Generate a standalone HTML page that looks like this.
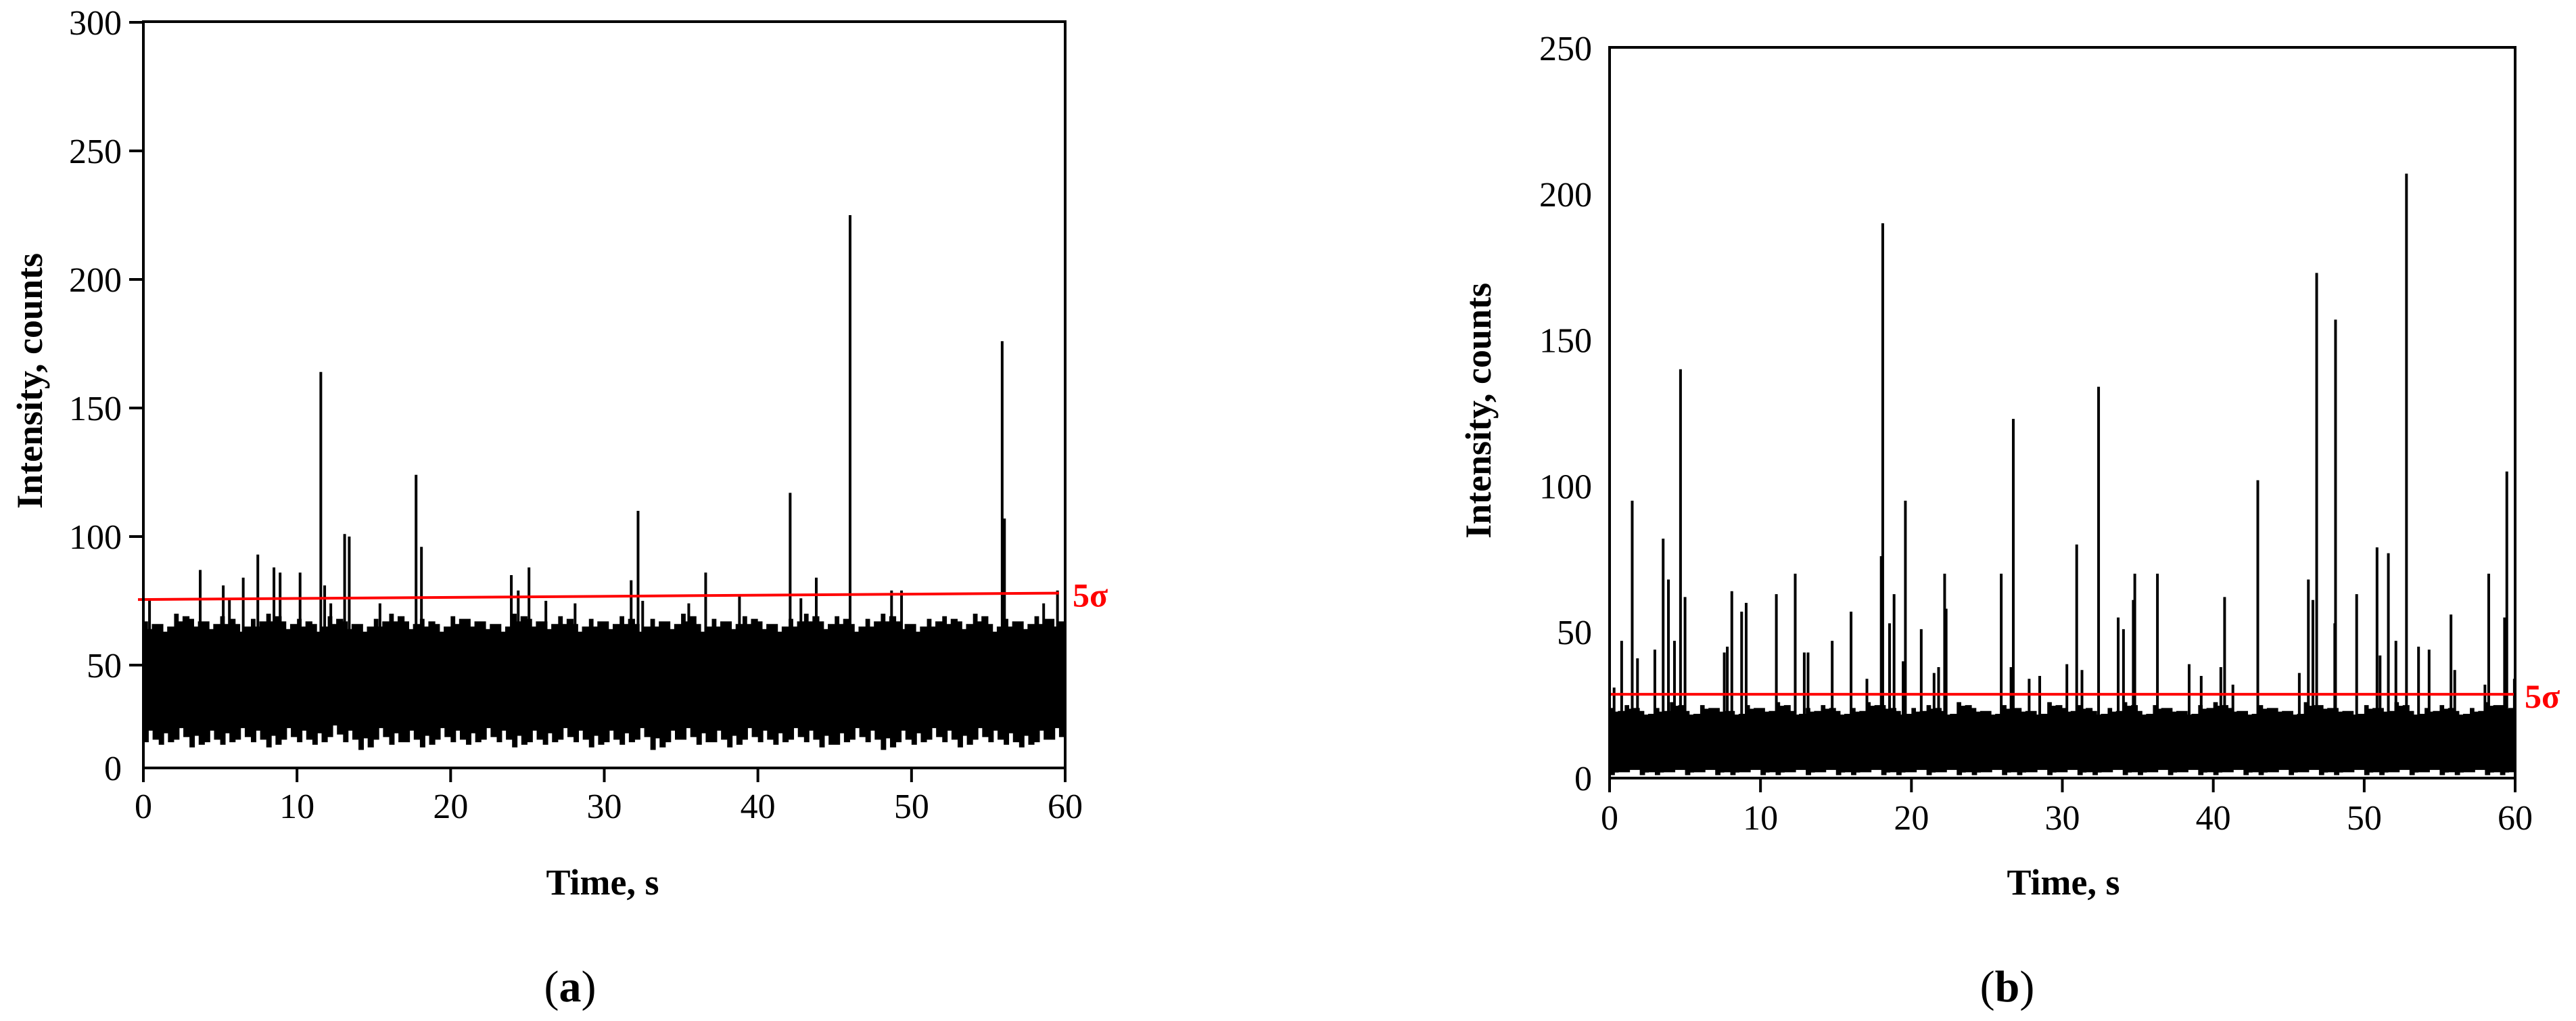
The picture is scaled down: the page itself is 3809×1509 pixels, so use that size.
<!DOCTYPE html>
<html><head><meta charset="utf-8"><style>
html,body{margin:0;padding:0;background:#fff;}
svg{display:block;}
text{font-family:"Liberation Serif",serif;}
</style></head><body>
<svg id="fig" width="3809" height="1509" viewBox="0 0 3809 1509" xmlns="http://www.w3.org/2000/svg"></svg>
<script>
// ---- Chart (a) data ----
const aTicksX = [0,10,20,30,40,50,60];
const aTicksY = [50,100,150,200,250,300];
const aSpikeT = [0.4,3.7,5.2,5.6,6.5,7.45,8.5,8.9,10.2,11.55,11.8,12.2,13.1,13.4,15.4,17.75,18.1,23.95,24.4,25.1,26.2,28.1,31.75,32.2,32.5,35.5,36.6,38.8,42.1,42.8,43.8,46.0,48.7,49.35,55.9,56.05,58.6,59.5];
const aSpikeV = [75,87,81,76,84,93,88,86,86,164,81,74,101,100,74,124,96,85,79,88,75,74,83,110,75,74,86,77,117,76,84,225,79,79,176,107,74,79];
const aUpper = [67,66,70,68,67,69,66,68,70,67,68,66,69,67,66,68,70,67,68,66,69,68,67,66,70,68,67,69,66,68,67,69,66,68,67,70,66,68,67,69,67,66,68,70,67,69,66,68,70,67,66,68,69,67,70,66,68,67,69,68];
const aLower = [20,19,21,18,20,19,21,20,18,21,20,19,22,20,17,21,19,20,18,21,20,19,21,20,18,20,19,21,20,18,20,19,21,17,20,21,19,20,18,21,20,19,21,20,18,19,21,20,17,20,19,21,20,18,21,20,19,18,20,21];
const aCoreTop = 61, aCoreBottom = 29;
const aSigma = [75.5, 78];
// ---- Chart (b) data ----
const bTicksX = [0,10,20,30,40,50,60];
const bTicksY = [0,50,100,150,200,250];
const bSpikeT = [0.3,0.8,1.5,1.85,3.0,3.55,3.9,4.3,4.7,5.0,7.6,7.8,8.1,8.75,9.05,11.05,12.3,12.9,13.15,14.75,16.0,17.05,18.0,18.1,18.55,18.85,19.45,19.6,20.65,21.5,21.8,22.2,22.3,25.95,26.6,26.75,27.8,28.5,30.3,30.95,31.3,32.4,33.7,34.05,34.7,34.8,36.3,38.4,39.2,40.5,40.75,41.3,42.95,45.7,46.3,46.6,46.85,48.05,48.1,49.5,50.85,51.05,51.6,52.1,52.8,53.6,54.3,55.75,56.0,58.0,58.25,59.3,59.45,59.95];
const bSpikeV = [31,47,95,41,44,82,68,47,140,62,43,45,64,57,60,63,70,43,43,47,57,34,76,190,53,63,40,95,51,36,38,70,58,70,38,123,34,35,39,80,37,134,55,51,61,70,70,39,35,38,62,32,102,36,68,61,173,53,157,63,79,42,77,47,207,45,44,56,37,32,70,55,105,34];
const bUpper = [24,25,23,24,26,23,25,24,23,25,24,26,23,24,25,23,24,26,25,23,24,25,23,26,24,23,25,24,23,26,24,25,23,24,26,23,25,24,23,25,26,24,23,25,24,23,26,25,24,23,25,24,26,23,24,25,23,24,26,25];
const bLower = [1,2,1,1,2,1,2,1,1,2,1,1,2,1,2,1,1,2,1,1,2,1,2,1,1,2,1,1,2,1,2,1,1,2,1,1,2,1,2,1,1,2,1,1,2,1,2,1,1,2,1,1,2,1,2,1,1,2,1,1];
const bCoreTop = 21.5, bCoreBottom = 2.8;
const bSigma = [28.7, 28.7];

const NS = "http://www.w3.org/2000/svg";
const svg = document.getElementById('fig');
function mk(tag, attrs, parent){
  const e = document.createElementNS(NS, tag);
  for (const k in attrs) e.setAttribute(k, attrs[k]);
  (parent||svg).appendChild(e);
  return e;
}

function drawChart(cfg){
  const g = mk('g', {});
  
  
  const X = t => cfg.x0 + t / 60 * (cfg.x1 - cfg.x0);
  const Y = v => cfg.yZero - v * cfg.pxPerUnit;
  const n = cfg.upper.length;
  const du = (cfg.upper[0] - cfg.coreTop) * 0.5;
  const dl = (cfg.coreBottom - cfg.lower[0]) * 0.5;
  let pts = [];
  for (let i = 0; i < n; i++) {
    const t = i;
    pts.push(X(t) + ',' + Y(cfg.upper[i]));
    pts.push(X(t + 0.3) + ',' + Y(cfg.upper[i]));
    pts.push(X(t + 0.3) + ',' + Y(cfg.upper[i] - du));
    pts.push(X(t + 0.55) + ',' + Y(cfg.upper[i] - du));
    pts.push(X(t + 0.55) + ',' + Y(cfg.upper[i] - 1));
    pts.push(X(Math.min(t + 1, 60)) + ',' + Y(cfg.upper[i] - 1));
  }
  for (let i = n - 1; i >= 0; i--) {
    const t = i;
    pts.push(X(Math.min(t + 1, 60)) + ',' + Y(cfg.lower[i] + 1));
    pts.push(X(t + 0.6) + ',' + Y(cfg.lower[i] + 1));
    pts.push(X(t + 0.6) + ',' + Y(cfg.lower[i] + dl));
    pts.push(X(t + 0.35) + ',' + Y(cfg.lower[i] + dl));
    pts.push(X(t + 0.35) + ',' + Y(cfg.lower[i]));
    pts.push(X(t) + ',' + Y(cfg.lower[i]));
  }
  const noise = mk('polygon', {points: pts.join(' '), fill: '#000'}, g);
  
  
  const core = mk('rect', {x: X(0), y: Y(cfg.coreTop), width: X(60) - X(0), height: Y(cfg.coreBottom) - Y(cfg.coreTop), fill: '#000'}, g);
  
  
  for (let i = 0; i < cfg.spT.length; i++) {
    const l = mk('line', {x1: X(cfg.spT[i]), x2: X(cfg.spT[i]), y1: Y(cfg.coreTop), y2: Y(cfg.spV[i]), stroke: '#000', 'stroke-width': 4}, g);
    
    
  }
  const red = mk('line', {x1: cfg.redX0, x2: cfg.redX1, y1: Y(cfg.sigma[0]), y2: Y(cfg.sigma[1]), stroke: '#ff0000', 'stroke-width': 4}, g);
  
  
  const st = mk('text', {x: cfg.redX1 + cfg.sigDx, y: Y(cfg.sigma[1]) + 20, fill: '#ff0000', 'font-size': 50, 'font-weight': 'bold'}, g);
  st.textContent = '5σ';
  
  
  const fr = mk('path', {d: `M${cfg.x0},${cfg.yTop} H${cfg.x1} V${cfg.yBot} H${cfg.x0} Z`, fill: 'none', stroke: '#000', 'stroke-width': 4}, g);
  
  
  cfg.ticksX.forEach(t => {
    const tl = mk('line', {x1: X(t), x2: X(t), y1: cfg.yBot, y2: cfg.yBot + 21, stroke: '#000', 'stroke-width': 4}, g);
    
    
    const tx = mk('text', {x: X(t), y: cfg.yBot + cfg.xLabDy, 'font-size': 52, 'text-anchor': 'middle'}, g);
    tx.textContent = t;
    
    
  });
  cfg.ticksY.forEach(v => {
    if (cfg.yTickMarks) {
      const tl = mk('line', {x1: cfg.x0 - 21, x2: cfg.x0, y1: Y(v), y2: Y(v), stroke: '#000', 'stroke-width': 4}, g);
      
      
    }
    const ty = mk('text', {x: cfg.x0 - cfg.yLabDx, y: Y(v) + 18, 'font-size': 52, 'text-anchor': 'end'}, g);
    ty.textContent = v;
    
    
  });
  if (cfg.zeroLabel) {
    const z = mk('text', {x: cfg.x0 - cfg.yLabDx, y: cfg.yBot + 18, 'font-size': 52, 'text-anchor': 'end'}, g);
    z.textContent = '0';
    
    
  }
  const xt = mk('text', {x: cfg.xTitleX, y: 1322, 'font-size': 54, 'font-weight': 'bold', 'text-anchor': 'middle'}, g);
  xt.textContent = 'Time, s';
  
  
  const yt = mk('text', {x: 0, y: 0, 'font-size': 54, 'font-weight': 'bold', 'text-anchor': 'middle', transform: `translate(${cfg.yTitleX},${cfg.yTitleY}) rotate(-90)`}, g);
  yt.textContent = 'Intensity, counts';
  
  
  const pl = mk('text', {x: cfg.panelX, y: 1480, 'font-size': 66, 'text-anchor': 'middle'}, g);
  pl.innerHTML = '(<tspan font-weight="bold">' + cfg.panel + '</tspan>)';
  
  
}

drawChart({name:'chart-a', x0:212, x1:1575, yTop:32, yBot:1135, yZero:1173, pxPerUnit:3.8,
  upper:aUpper, lower:aLower, coreTop:aCoreTop, coreBottom:aCoreBottom, spT:aSpikeT, spV:aSpikeV,
  sigma:aSigma, redX0:204, redX1:1566, sigDx:20, ticksX:aTicksX, ticksY:aTicksY, yTickMarks:true, zeroLabel:true,
  xLabDy:74, yLabDx:32, xTitleX:891, yTitleX:62, yTitleY:563, panelX:843, panel:'a'});
drawChart({name:'chart-b', x0:2380, x1:3719, yTop:70, yBot:1150, yZero:1150, pxPerUnit:4.316,
  upper:bUpper, lower:bLower, coreTop:bCoreTop, coreBottom:bCoreBottom, spT:bSpikeT, spV:bSpikeV,
  sigma:bSigma, redX0:2380, redX1:3719, sigDx:14, ticksX:bTicksX, ticksY:bTicksY, yTickMarks:false, zeroLabel:false,
  xLabDy:76, yLabDx:26, xTitleX:3051, yTitleX:2204, yTitleY:607, panelX:2968, panel:'b'});
</script>
</body></html>
